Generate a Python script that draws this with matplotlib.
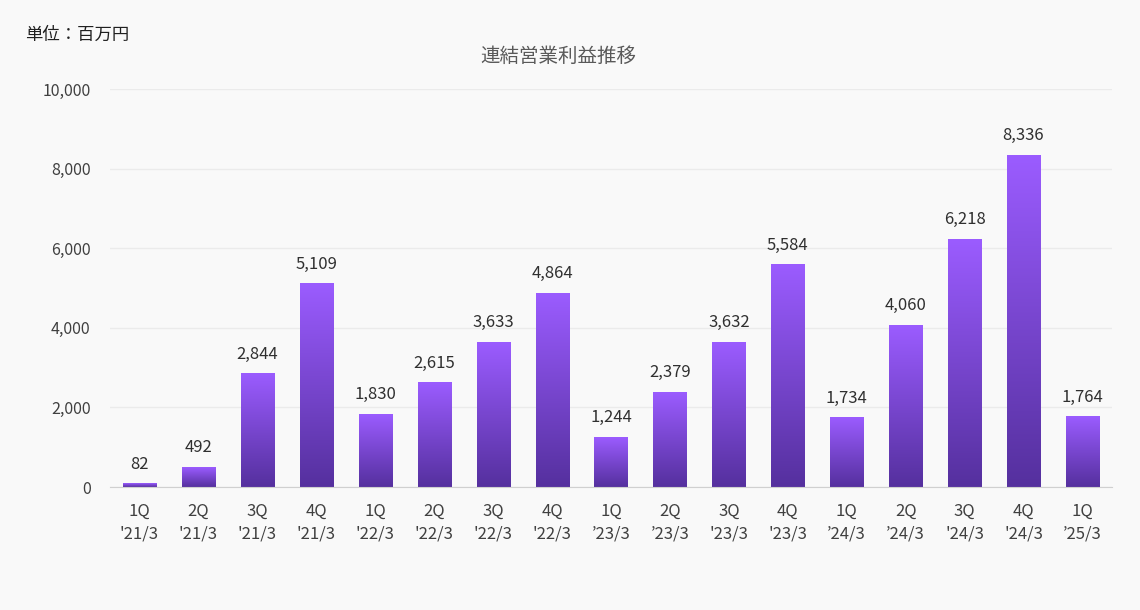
import matplotlib.pyplot as plt
import numpy as np
from matplotlib.colors import LinearSegmentedColormap

plt.rcParams['font.family'] = ['Noto Sans CJK JP', 'DejaVu Sans']

quarters = ['1Q', '2Q', '3Q', '4Q', '1Q', '2Q', '3Q', '4Q', '1Q', '2Q', '3Q', '4Q',
            '1Q', '2Q', '3Q', '4Q', '1Q']
years = ["'21/3", "'21/3", "'21/3", "'21/3", "'22/3", "'22/3", "'22/3", "'22/3",
         "\u201923/3", "\u201923/3", "'23/3", "'23/3", "\u201924/3", "\u201924/3",
         "'24/3", "'24/3", "\u201925/3"]
profit = [82, 492, 2844, 5109, 1830, 2615, 3633, 4864, 1244, 2379, 3632, 5584,
          1734, 4060, 6218, 8336, 1764]

bg = '#f9f9f9'
txt = '#404040'

fig = plt.figure(figsize=(11.4, 6.1), dpi=100, facecolor=bg)
ax = fig.add_axes([0.0965, 0.2016, 0.8789, 0.6525], facecolor=bg)

x = np.arange(len(profit))
width = 0.56
bars = ax.bar(x, profit, width=width, color='none', zorder=3)

# vertical gradient inside each bar
cmap = LinearSegmentedColormap.from_list('purp', ['#55309e', '#9b5cff'])
grad = np.linspace(0, 1, 256).reshape(-1, 1)
for b in bars:
    x0, y0 = b.get_x(), b.get_y()
    w, h = b.get_width(), b.get_height()
    ax.imshow(grad, cmap=cmap, origin='lower', aspect='auto',
              extent=(x0, x0 + w, y0, y0 + h), zorder=3)

for xi, v in zip(x, profit):
    ax.text(xi, v + 280, f'{v:,}', ha='center', va='bottom', fontsize=12, color='#303030')

ax.set_xlim(-0.5, len(profit) - 0.5)
ax.set_ylim(0, 10000)
ax.set_yticks(np.arange(0, 10001, 2000))
ax.set_yticklabels([f'{t:,}' for t in range(0, 10001, 2000)], fontsize=11.5, color=txt)
ax.set_xticks(x)
ax.set_xticklabels([f'{q}\n{y}' for q, y in zip(quarters, years)], fontsize=12,
                   color=txt, linespacing=1.45)
ax.tick_params(length=0, pad=11)
ax.tick_params(axis='y', pad=14)

ax.grid(axis='y', color='#ebebeb', linewidth=1, zorder=0)
for s in ['top', 'right', 'left']:
    ax.spines[s].set_visible(False)
ax.spines['bottom'].set_color('#d0d0d0')
ax.spines['bottom'].set_zorder(4)

fig.text(0.4895, 0.907, '連結営業利益推移', ha='center', va='center', fontsize=14, color='#595959')
fig.text(0.022, 0.943, '単位：百万円', ha='left', va='center', fontsize=12.5, color='#202020')

fig.savefig('out.png', dpi=100, facecolor=bg)
